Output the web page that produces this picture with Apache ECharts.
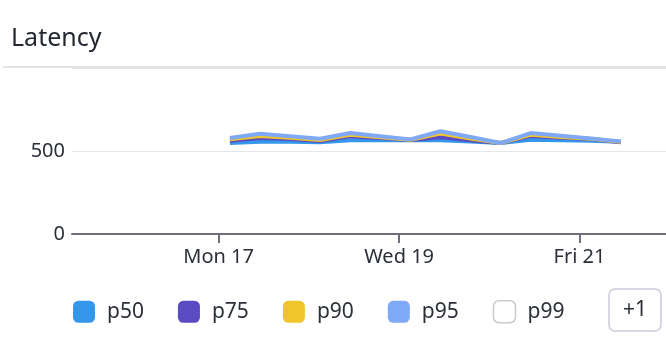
<!DOCTYPE html>
<html>
<head>
<meta charset="utf-8">
<script src="https://cdn.jsdelivr.net/npm/echarts@6/dist/echarts.min.js"></script>
<style>
  html, body { margin: 0; padding: 0; background: #fff; }
  #chart { width: 666px; height: 352px; }
</style>
</head>
<body>
<div id="chart"></div>
<script>
// hours after Mon 17 00:00, one point every 8 hours
var hours = [3, 11, 19, 27, 35, 43, 51, 59, 67, 75, 83, 91, 99, 107];

var p50 = [548, 556, 556, 552, 565, 565, 565, 565, 557, 548, 568, 565, 562, 555];
var p75 = [562, 578, 572, 560, 588, 578, 566, 583, 565, 548, 590, 580, 572, 552];
var p90 = [570, 590, 580, 566, 598, 583, 568, 605, 575, 548, 598, 585, 574, 555];
var p95 = [578, 604, 589, 574, 608, 589, 570, 619, 584, 548, 608, 592, 575, 558];
var p99 = []; // not drawn in the picture

var seriesNames = ['p50', 'p75', 'p90', 'p95', 'p99'];
var seriesColors = ['#3497eb', '#5a4bc2', '#f0c52a', '#7fa9f7', '#ffffff'];

var xTickHours = [0, 48, 96];
var xTickLabels = ['Mon 17', 'Wed 19', 'Fri 21'];

var yTicks = [0, 500];

function pairs(vals) {
    var out = [];
    for (var i = 0; i < vals.length; i++) {
        out.push([hours[i], vals[i]]);
    }
    return out;
}

var allData = [p50, p75, p90, p95, p99];
var series = [];
for (var i = 0; i < seriesNames.length; i++) {
    series.push({
        name: seriesNames[i],
        type: 'line',
        data: pairs(allData[i]),
        showSymbol: false,
        symbol: 'none',
        color: seriesColors[i],
        lineStyle: { width: 4, color: seriesColors[i] },
        emphasis: { disabled: true }
    });
}

var legendData = [];
for (var j = 0; j < seriesNames.length; j++) {
    var item = { name: seriesNames[j], icon: 'roundRect' };
    if (seriesNames[j] === 'p99') {
        item.itemStyle = { color: '#ffffff', borderColor: '#c9c9cf', borderWidth: 1.5 };
    } else {
        item.itemStyle = { color: seriesColors[j], borderWidth: 0 };
    }
    legendData.push(item);
}

var myChart = echarts.init(document.getElementById('chart'));
var option = {
    animation: false,
    textStyle: { fontFamily: 'Noto Sans' },
    title: {
        text: 'Latency',
        left: 6,
        top: 21,
        textStyle: { fontSize: 25, fontWeight: 'normal', color: '#23272f', fontFamily: 'Noto Sans' }
    },
    grid: { left: 72, right: 0, top: 68, bottom: 118, containLabel: false },
    xAxis: {
        type: 'value',
        min: -39,
        max: 119,
        axisLine: { show: true, lineStyle: { color: '#6e6e7e', width: 2 } },
        axisTick: { show: true, length: 9, lineStyle: { color: '#6e6e7e', width: 2 }, customValues: xTickHours },
        axisLabel: {
            customValues: xTickHours,
            margin: 13,
            fontSize: 20,
            color: '#2b2f38',
            formatter: function (v) {
                var k = xTickHours.indexOf(v);
                return k >= 0 ? xTickLabels[k] : '';
            }
        },
        splitLine: { show: false }
    },
    yAxis: {
        type: 'value',
        min: 0,
        max: 1000,
        interval: 500,
        axisLine: { show: false },
        axisTick: { show: false },
        axisLabel: {
            margin: 7,
            fontSize: 20,
            color: '#2b2f38',
            formatter: function (v) {
                return yTicks.indexOf(v) >= 0 ? String(v) : '';
            }
        },
        splitLine: { show: true, lineStyle: { color: '#e6e6e8', width: 1 } }
    },
    legend: {
        data: legendData,
        left: 68,
        top: 295,
        itemWidth: 22,
        itemHeight: 22,
        itemGap: 34,
        textStyle: { fontSize: 21, color: '#2b2f38', fontFamily: 'Noto Sans', padding: [0, 0, 0, 7] },
        selectedMode: false
    },
    graphic: [
        {
            type: 'line',
            shape: { x1: 3, y1: 67, x2: 666, y2: 67 },
            style: { stroke: '#e3e3e6', lineWidth: 2 }
        },
        {
            type: 'rect',
            shape: { x: 609, y: 289, width: 52, height: 42, r: 6 },
            style: { fill: '#ffffff', stroke: '#c9cbd9', lineWidth: 1.5 }
        },
        {
            type: 'text',
            x: 635,
            y: 310,
            style: {
                text: '+1', fontSize: 21, fill: '#2b2f38', fontFamily: 'Noto Sans',
                align: 'center', verticalAlign: 'middle'
            }
        }
    ],
    series: series
};
myChart.setOption(option);
</script>
</body>
</html>
